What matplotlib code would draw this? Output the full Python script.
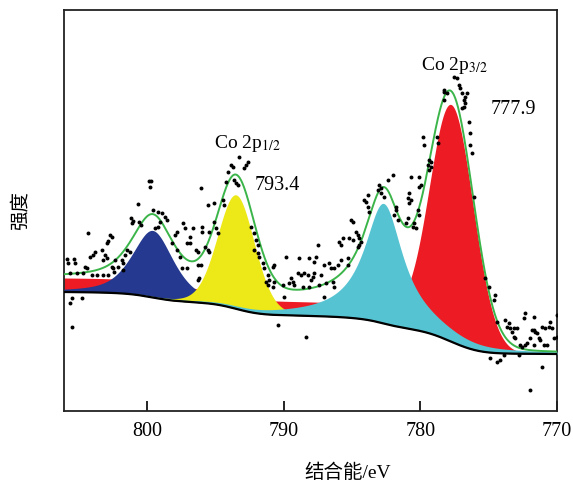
import numpy as np
import matplotlib
matplotlib.use("Agg")
import matplotlib.pyplot as plt

plt.rcParams['font.family'] = ['Liberation Serif', 'Noto Sans CJK SC', 'DejaVu Sans']
plt.rcParams['mathtext.fontset'] = 'stix'

# ---------------- data ----------------
# fitted components: Co 2p3/2 (red), satellite (cyan), Co 2p1/2 (yellow), satellite (blue)
comp_names = ['Co 2p3/2', 'sat 3/2', 'Co 2p1/2', 'sat 1/2']
comp_centers = [777.75, 782.7, 793.5, 799.6]          # eV
comp_heights = [237, 120, 114, 67]                     # a.u.
comp_hwhm = [1.9, 1.73, 1.6, 1.8]                      # eV
comp_lorentz = [0.0, 1.0, 0.15, 0.6]
comp_colors = ['#ED1C24', '#56C3D2', '#EDE817', '#24398F']
red_tail_height = 14
red_tail_onset = 780.75
red_tail_width = 0.6
bg_low = 57
bg_steps = [22.1, 16.9, 12, 11]

# measured points (binding energy / eV, intensity a.u.)
dots_ev = [
    805.88, 805.37, 805.81, 805.29, 805.66, 805.51, 804.78, 805.51, 805.66, 805.15,
    804.56, 804.41, 804.71, 804.34, 804.19, 803.97, 804.04, 803.68, 803.82,
    803.31, 803.09, 802.94, 803.24, 803.24, 802.87, 802.72, 802.57, 802.87,
    802.94, 802.57, 802.50, 802.43, 802.35, 801.84, 801.76, 801.62, 801.47,
    801.25, 801.18, 801.03, 801.10, 800.59, 800.44, 800.66, 799.85, 799.71,
    799.78, 799.56, 799.19, 798.90, 798.68, 799.04, 799.19, 799.41, 802.13, 801.76,
    793.31, 793.90, 793.75, 792.65, 792.79, 792.94, 794.12, 794.27, 793.68, 793.53,
    793.38, 796.10, 795.59, 795.15, 794.49, 794.41, 798.53, 797.35, 797.21, 796.69,
    797.79, 797.94, 795.96, 795.96, 795.51, 795.15, 795.00, 794.85, 796.84, 797.06,
    796.84, 796.47, 796.32, 795.74, 795.59, 795.51, 798.16, 797.79, 796.32, 796.10,
    797.57, 797.43, 797.06, 796.32, 796.25, 792.43, 792.21, 792.06, 791.91, 792.21,
    791.91, 791.84, 791.54, 791.46, 791.18, 791.10, 790.81, 790.74, 790.81, 791.32, 791.18,
    783.01, 783.09, 783.82, 783.97, 783.82, 783.75, 785.07, 784.93, 784.71, 784.56,
    784.49, 784.34, 784.49, 784.56, 785.22, 784.93, 785.66, 785.96, 785.81, 787.50,
    789.85, 788.90, 788.16, 787.79, 787.65, 787.06, 786.69, 786.54, 786.32, 786.03,
    785.81, 785.29, 785.29, 788.97, 788.75, 788.53, 788.24, 787.87, 787.79, 787.28,
    788.01, 789.49, 789.34, 789.63, 790.07, 789.26, 790.74, 788.60, 788.16, 787.43,
    786.91, 786.40, 786.32, 787.06, 790.44, 790.00, 788.38, 784.12, 782.35, 781.99,
    782.87, 782.65, 781.76, 781.91, 781.62,
    777.57, 777.35, 777.21, 777.13, 778.31, 778.24, 778.24, 778.09, 776.99, 776.62,
    776.76, 776.84, 776.76, 776.84, 776.99, 776.47, 776.40, 778.82, 778.68, 779.78,
    779.71, 776.40, 779.34, 779.19, 779.41, 779.19, 779.34, 776.25, 780.07, 780.66,
    782.87, 779.93, 780.07, 780.81, 780.88, 780.81, 781.76, 780.88, 781.03, 780.44,
    780.51, 780.29, 776.10, 780.66, 780.15, 780.07,
    775.29, 775.00, 774.56, 774.63, 774.41, 773.82, 773.53, 773.68, 773.46, 773.31,
    773.16, 772.94, 772.35, 772.43, 771.69, 773.16, 773.09, 772.72, 772.57, 772.35,
    772.21, 771.84, 771.69, 771.62, 771.47, 771.99, 771.32, 771.25, 771.10, 770.88,
    770.51, 770.59, 770.37, 770.96, 770.74, 770.22, 770.00, 770.00, 771.69, 774.93,
    774.41, 774.19, 773.90, 772.79, 771.10, 771.99,
]
dots_int = [
    152, 152, 148, 148, 138, 113, 113, 84, 108, 138,
    144, 143, 138, 178, 154, 156, 136, 136, 159,
    161, 156, 153, 151, 136, 136, 176, 174, 170,
    168, 144, 143, 139, 151, 151, 148, 156, 161,
    159, 193, 190, 188, 189, 186, 207, 230, 230,
    224, 201, 199, 198, 194, 189, 184, 183, 144, 141,
    254, 246, 244, 249, 246, 243, 239, 229, 231, 228,
    226, 223, 206, 208, 211, 206, 191, 188, 183, 183,
    179, 176, 184, 179, 179, 189, 183, 178, 174, 168,
    168, 161, 159, 164, 161, 159, 168, 161, 146, 146,
    154, 143, 143, 131, 133, 184, 178, 171, 166, 161,
    158, 154, 148, 143, 136, 131, 144, 129, 124, 129, 126,
    226, 221, 216, 209, 204, 199, 191, 189, 179, 176,
    173, 169, 166, 164, 173, 171, 173, 169, 166, 166,
    154, 153, 153, 149, 154, 146, 148, 143, 143, 146,
    151, 153, 146, 138, 136, 138, 136, 134, 138, 136,
    131, 133, 129, 128, 126, 126, 146, 124, 124, 126,
    128, 129, 124, 114, 86, 114, 74, 211, 231, 236,
    218, 214, 201, 196, 191,
    334, 333, 326, 323, 321, 319, 311, 318, 318, 318,
    314, 311, 308, 304, 303, 289, 278, 274, 268, 274,
    266, 266, 251, 249, 246, 244, 241, 258, 234, 234,
    223, 226, 224, 218, 213, 208, 204, 193, 188, 188,
    184, 183, 214, 211, 201, 196,
    133, 124, 116, 111, 89, 91, 88, 84, 83, 79,
    83, 83, 98, 93, 94, 74, 73, 66, 64, 66,
    68, 81, 81, 79, 78, 73, 73, 71, 84, 83,
    89, 84, 83, 66, 66, 73, 74, 96, 66, 53,
    49, 51, 56, 56, 44, 21,
]

xticks = [800, 790, 780, 770]
xlabel = '结合能/eV'
ylabel = '强度'

# ---------------- model curves ----------------
x = np.linspace(770.0, 806.1, 1500)


def pseudo_voigt(xx, c, h, w, eta):
    d = (xx - c) / w
    return h * (eta / (1 + d ** 2) + (1 - eta) * np.exp(-np.log(2) * d ** 2))


cores = [pseudo_voigt(x, c, h, w, e) for c, h, w, e in
         zip(comp_centers, comp_heights, comp_hwhm, comp_lorentz)]
comps = [cc.copy() for cc in cores]
comps[0] = comps[0] + red_tail_height / (1 + np.exp(-(x - red_tail_onset) / red_tail_width))

bg = np.full_like(x, float(bg_low))
for core, step in zip(cores, bg_steps):
    cs = np.cumsum(core)
    cs = (cs - cs[0]) / (cs[-1] - cs[0])
    bg = bg + step * cs

envelope = bg + np.sum(comps, axis=0)

# ---------------- figure ----------------
fig = plt.figure(figsize=(5.73, 4.84), dpi=100)
ax = fig.add_axes([64 / 573, 1 - 411 / 484, 493 / 573, 401 / 484])

draw_order = [0, 3, 2, 1]
for z, i in enumerate(draw_order):
    ax.fill_between(x, bg, bg + comps[i], color=comp_colors[i], lw=0, zorder=2 + z)

ax.plot(x, bg, color='black', lw=1.6, zorder=8)
ax.plot(x, envelope, color='#3BB54A', lw=1.4, zorder=9)
ax.scatter(dots_ev, dots_int, s=8, color='black', zorder=10, linewidths=0)

ax.set_xlim(806.1, 770.0)
ax.set_ylim(0, 401)
ax.set_xticks(xticks)
ax.set_xticklabels([str(t) for t in xticks])
ax.set_yticks([])
ax.tick_params(axis='x', direction='in', length=7, width=1.2, pad=8, labelsize=14.5,
               top=False)
for sp in ax.spines.values():
    sp.set_linewidth(1.3)
    sp.set_color('#222222')

ax.text(792.7, 268, 'Co 2p$_{1/2}$', ha='center', va='center', fontsize=14)
ax.text(790.45, 226, '793.4', ha='center', va='center', fontsize=14.5)
ax.text(777.5, 345, 'Co 2p$_{3/2}$', ha='center', va='center', fontsize=14)
ax.text(773.2, 301, '777.9', ha='center', va='center', fontsize=14.5)

fig.text(348 / 573, 1 - 473 / 484, xlabel, ha='center', va='center', fontsize=14)
fig.text(20 / 573, 1 - 210 / 484, ylabel, ha='center', va='center', fontsize=14,
         rotation=90, family=['Noto Sans CJK SC'])

fig.savefig('out.png', dpi=100)
